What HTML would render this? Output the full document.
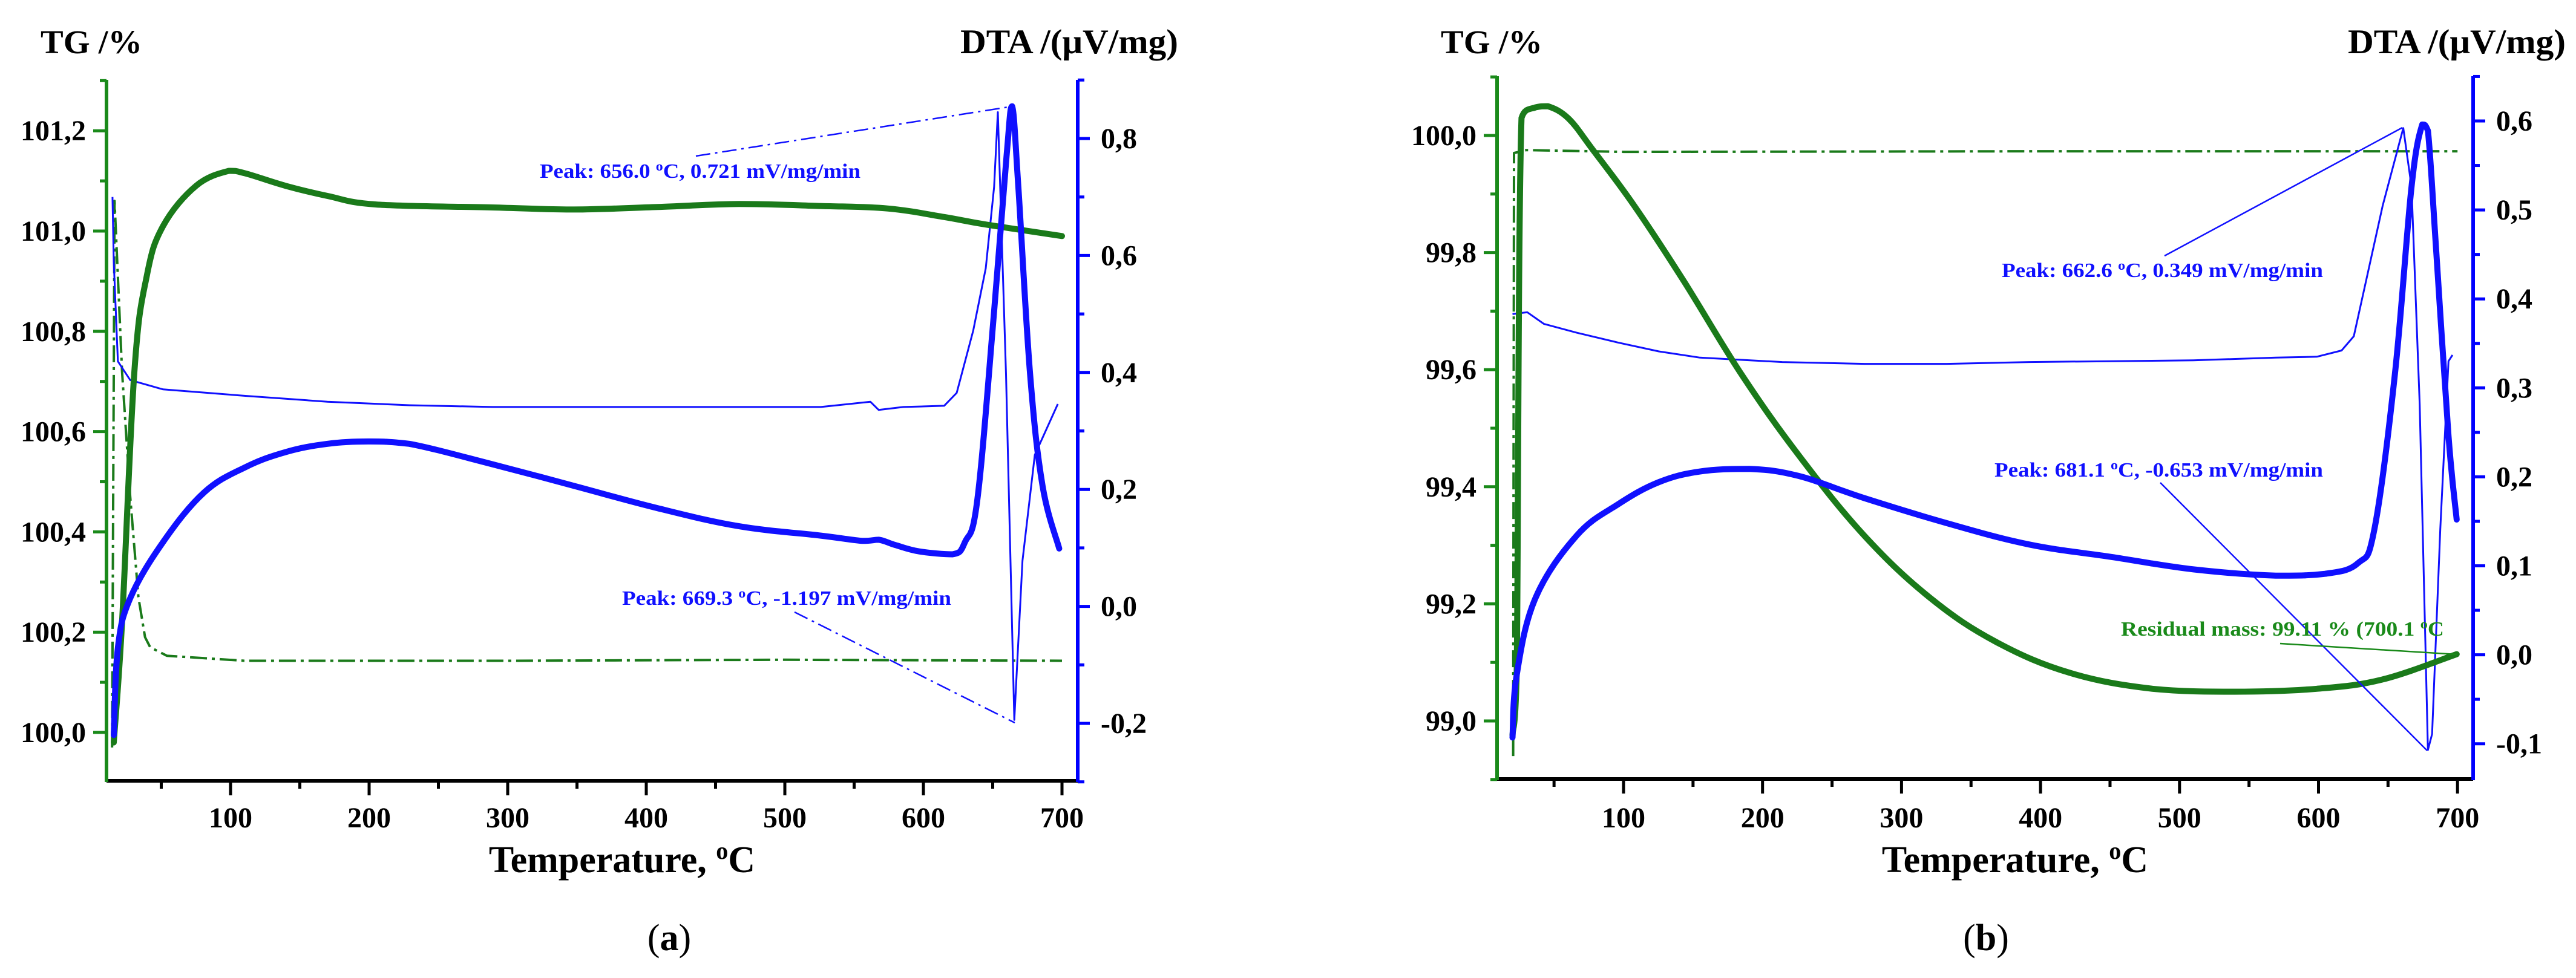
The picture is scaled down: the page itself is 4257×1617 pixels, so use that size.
<!DOCTYPE html>
<html><head><meta charset="utf-8"><style>
html,body{margin:0;padding:0;background:#fff;}
svg{display:block;font-family:"Liberation Serif",serif;font-weight:bold;}
</style></head><body>
<svg id="fig" width="4257" height="1617" viewBox="0 0 4257 1617" xmlns="http://www.w3.org/2000/svg">
<rect width="4257" height="1617" fill="#fff"/>
</svg>
<script>
// ---- Panel (a) data ----
const aTgT = [15.7,21.7,30.6,39.5,51.3,75,98.8,110.7,140,170,205,289,348,408,467,526,574,615,645,700];
const aTgV = [99.98,100.22,100.72,100.91,101.01,101.09,101.12,101.115,101.09,101.07,101.053,101.047,101.043,101.048,101.054,101.05,101.045,101.028,101.013,100.99];
const aDtgT = [14.5,16.3,21.7,27.6,33.5,38.3,42,54,110,300,500,700];
const aDtgV = [99.97,101.06,100.72,100.47,100.27,100.19,100.17,100.153,100.143,100.143,100.145,100.143];
const aDtaT = [15.7,18.7,27.6,51.3,81,110.7,140,170,199.7,229,289,348,408,467,526,556,567.7,579.6,597,621,630,639,651,660,664,668.5,677,686,698];
const aDtaV = [-0.22,-0.071,0.014,0.110,0.195,0.238,0.264,0.278,0.282,0.278,0.243,0.206,0.168,0.137,0.121,0.112,0.114,0.105,0.094,0.089,0.11,0.184,0.504,0.77,0.855,0.717,0.397,0.206,0.099];
const aDdtaT = [14.8,15.7,18.7,27.6,51.3,110.7,170,229,289,407,526,561.7,567.7,585.5,615,624,636,645,651,653.7,659.6,665.6,671.5,680.4,697];
const aDdtaV = [0.7,0.589,0.419,0.387,0.371,0.36,0.35,0.344,0.341,0.341,0.341,0.35,0.336,0.341,0.343,0.365,0.472,0.578,0.717,0.845,0.397,-0.194,0.078,0.259,0.346];
const aTgTicks = [100.0,100.2,100.4,100.6,100.8,101.0,101.2];
const aTgLabels = ["100,0","100,2","100,4","100,6","100,8","101,0","101,2"];
const aDtaTicks = [-0.2,0.0,0.2,0.4,0.6,0.8];
const aDtaLabels = ["-0,2","0,0","0,2","0,4","0,6","0,8"];
// ---- Panel (b) data ----
const bTgT = [20.1,23.1,26.6,36.7,45.6,60.4,78.1,107.7,143.2,184.6,226,273.4,320.7,368,421.3,480.5,539.6,598.8,646.2,699.4];
const bTgV = [98.976,99.08,100.03,100.048,100.05,100.029,99.975,99.88,99.752,99.593,99.454,99.316,99.21,99.135,99.082,99.055,99.05,99.055,99.071,99.114];
const bDtgT = [20.6,21.2,30,100,400,700];
const bDtgV = [98.94,99.97,99.975,99.972,99.973,99.973];
const bDtaT = [20.1,23.1,36.7,66.3,95.9,125.4,155,190.5,226,273.4,332.5,391.7,450.9,510,569.2,604.7,628.4,640.2,655,666.9,674.6,678.7,684.6,693.5,699.4];
const bDtaV = [-0.093,-0.023,0.064,0.134,0.169,0.194,0.206,0.209,0.201,0.176,0.148,0.124,0.11,0.096,0.089,0.091,0.103,0.141,0.316,0.526,0.596,0.589,0.456,0.246,0.152];
const bDdtaT = [20.1,30.8,42.6,66.3,95.9,125.4,155,214.2,273.4,332.5,391.7,450.9,510,569.2,598.8,616.6,625.4,634.3,646.2,661,666.9,672.8,678.7,681.7,687.6,693.5,696.4];
const bDdtaV = [0.383,0.385,0.372,0.362,0.351,0.341,0.334,0.329,0.327,0.327,0.329,0.33,0.331,0.334,0.335,0.342,0.358,0.421,0.505,0.592,0.526,0.281,-0.107,-0.089,0.141,0.33,0.337];
const bTgTicks = [99.0,99.2,99.4,99.6,99.8,100.0];
const bTgLabels = ["99,0","99,2","99,4","99,6","99,8","100,0"];
const bDtaTicks = [-0.1,0.0,0.1,0.2,0.3,0.4,0.5,0.6];
const bDtaLabels = ["-0,1","0,0","0,1","0,2","0,3","0,4","0,5","0,6"];
const xTicks = [100,200,300,400,500,600,700];
const xLabels = ["100","200","300","400","500","600","700"];

const NS = "http://www.w3.org/2000/svg";
const svg = document.getElementById('fig');
function mk(tag, attrs, parent, text){
  const e = document.createElementNS(NS, tag);
  for (const k in attrs) e.setAttribute(k, attrs[k]);
  if (text !== undefined) e.textContent = text;
  (parent || svg).appendChild(e);
  return e;
}
function pathD(ts, vs, sx, sy){
  return ts.map((t,i)=>(i?'L':'M')+sx(t).toFixed(1)+' '+sy(vs[i]).toFixed(1)).join(' ');
}
function clamp(v,a,b){const lo=Math.min(a,b),hi=Math.max(a,b);return Math.max(lo,Math.min(hi,v));}
function smoothD(ts, vs, sx, sy){
  const p = ts.map((t,i)=>[sx(t), sy(vs[i])]);
  let d = 'M'+p[0][0].toFixed(1)+' '+p[0][1].toFixed(1);
  const k = 0.18;
  for (let i=0;i<p.length-1;i++){
    const p0 = p[Math.max(0,i-1)], p1 = p[i], p2 = p[i+1], p3 = p[Math.min(p.length-1,i+2)];
    const c1x = clamp(p1[0]+(p2[0]-p0[0])*k, p1[0], p2[0]), c1y = clamp(p1[1]+(p2[1]-p0[1])*k, p1[1], p2[1]);
    const c2x = clamp(p2[0]-(p3[0]-p1[0])*k, p1[0], p2[0]), c2y = clamp(p2[1]-(p3[1]-p1[1])*k, p1[1], p2[1]);
    d += ' C'+c1x.toFixed(1)+' '+c1y.toFixed(1)+' '+c2x.toFixed(1)+' '+c2y.toFixed(1)+' '+p2[0].toFixed(1)+' '+p2[1].toFixed(1);
  }
  return d;
}

function panel(P){
  const g = mk('g', {});
  
  
  const sx = t => P.x0 + (t-100)*P.xk;
  const sl = v => P.l0y - (v-P.l0)*P.lk;
  const sr = v => P.r0y - (v-P.r0)*P.rk;
  let p;
  p = mk('path', {d: pathD(P.dtgT,P.dtgV,sx,sl), fill:'none', stroke:'#1a7a1a', 'stroke-width':4, 'stroke-dasharray':'28 8 5 8', 'stroke-linejoin':'round'}, g);
  
  
  p = mk('path', {d: pathD(P.ddtaT,P.ddtaV,sx,sr), fill:'none', stroke:'#1010ff', 'stroke-width':3, 'stroke-linejoin':'round'}, g);
  
  
  p = mk('path', {d: smoothD(P.tgT,P.tgV,sx,sl), fill:'none', stroke:'#1a7a1a', 'stroke-width':10, 'stroke-linejoin':'round','stroke-linecap':'round'}, g);
  
  
  p = mk('path', {d: smoothD(P.dtaT,P.dtaV,sx,sr), fill:'none', stroke:'#1010ff', 'stroke-width':10, 'stroke-linejoin':'round','stroke-linecap':'round'}, g);
  
  
  const ax = mk('g', {}, g);
  
  
  mk('line', {x1:P.L, y1:P.B, x2:P.R, y2:P.B, stroke:'#000', 'stroke-width':6}, ax);
  mk('line', {x1:P.L, y1:P.T, x2:P.L, y2:P.B+2, stroke:'#1a8a1a', 'stroke-width':6}, ax);
  mk('line', {x1:P.R, y1:P.T, x2:P.R, y2:P.B+2, stroke:'#0000ff', 'stroke-width':6}, ax);
  for (let t=50; t<=700; t+=50){
    const major = t%100===0;
    mk('line', {x1:sx(t), y1:P.B, x2:sx(t), y2:P.B+(major?24:13), stroke:'#000', 'stroke-width':5}, ax);
  }
  xTicks.forEach((t,i)=>{
    const e = mk('text', {x:sx(t), y:1368, 'text-anchor':'middle', 'font-size':48, fill:'#000'}, ax, xLabels[i]);
    
    
  });
  for (let v=P.lMin; v<=P.lMax+1e-9; v+=0.1){
    const y = sl(v); if (y < P.T-2 || y > P.B+2) continue;
    const major = Math.abs(Math.round(v*10)%2)===0;
    mk('line', {x1:P.L-(major?22:11), y1:y, x2:P.L, y2:y, stroke:'#1a8a1a', 'stroke-width':5}, ax);
  }
  P.lTicks.forEach((v,i)=>{
    const e = mk('text', {x:P.L-34, y:sl(v)+16, 'text-anchor':'end', 'font-size':48, fill:'#000'}, ax, P.lLabels[i]);
    
    
  });
  for (let v=P.rMin; v<=P.rMax+1e-9; v+=P.rMinor){
    const y = sr(v); if (y < P.T-2 || y > P.B+2) continue;
    const major = P.rTicks.some(tv=>Math.abs(tv-v)<1e-6);
    mk('line', {x1:P.R, y1:y, x2:P.R+(major?20:11), y2:y, stroke:'#0000ff', 'stroke-width':5}, ax);
  }
  P.rTicks.forEach((v,i)=>{
    const e = mk('text', {x:P.R+38, y:sr(v)+16, 'text-anchor':'start', 'font-size':48, fill:'#000'}, ax, P.rLabels[i]);
    
    
  });
  let e = mk('text', {x:P.tgX, y:88, 'font-size':55, fill:'#000', textLength:168, lengthAdjust:'spacingAndGlyphs'}, g, 'TG /%');
  
  
  e = mk('text', {x:P.dtaX, y:88, 'font-size':57, fill:'#000', textLength:360, lengthAdjust:'spacingAndGlyphs'}, g, 'DTA /(μV/mg)');
  
  
  e = mk('text', {x:P.xtX, y:1442, 'text-anchor':'middle', 'font-size':62, fill:'#000'}, g);
  e.innerHTML = 'Temperature, <tspan dy="-22" font-size="40">o</tspan><tspan dy="22">C</tspan>';
  
  
  e = mk('text', {x:P.capX, y:1571, 'text-anchor':'middle', 'font-size':62, 'font-weight':'normal', fill:'#000'}, g);
  e.innerHTML = '(<tspan font-weight="bold">'+P.cap+'</tspan>)';
  
  
  P.ann.forEach(a=>{
    const ln = mk('line', {x1:a.lx1, y1:a.ly1, x2:a.lx2, y2:a.ly2, stroke:a.c, 'stroke-width':2.5, 'stroke-dasharray':a.dash||'none'}, g);
    
    
    const t = mk('text', {x:a.x, y:a.y, 'font-size':34, fill:a.c, textLength:a.w, lengthAdjust:'spacingAndGlyphs'}, g);
    t.innerHTML = a.html;
    
    
  });
}

panel({id:'panel-a', cap:'a', L:176, R:1781, T:132, B:1291, x0:381, xk:2.29,
  l0:100, l0y:1211, lk:829, r0:0.8, r0y:229, rk:967,
  lMin:99.9, lMax:101.3, rMin:-0.3, rMax:0.9, rMinor:0.1,
  lTicks:aTgTicks, lLabels:aTgLabels, rTicks:aDtaTicks, rLabels:aDtaLabels,
  tgT:aTgT, tgV:aTgV, dtgT:aDtgT, dtgV:aDtgV, dtaT:aDtaT, dtaV:aDtaV, ddtaT:aDdtaT, ddtaV:aDdtaV,
  tgX:67, dtaX:1587, xtX:1028, capX:1106,
  ann:[
    {x:892,y:294,w:530,c:'#1010ff',html:'Peak: 656.0 <tspan dy="-12" font-size="22">o</tspan><tspan dy="12">C, 0.721 mV/mg/min</tspan>',lx1:1150,ly1:258,lx2:1666,ly2:177,dash:'24 8 4 8'},
    {x:1028,y:1000,w:544,c:'#1010ff',html:'Peak: 669.3 <tspan dy="-12" font-size="22">o</tspan><tspan dy="12">C, -1.197 mV/mg/min</tspan>',lx1:1313,ly1:1012,lx2:1677,ly2:1195,dash:'24 8 4 8'}
  ]});

panel({id:'panel-b', cap:'b', L:2474, R:4087, T:126, B:1288, x0:2683, xk:2.297,
  l0:100, l0y:224, lk:968, r0:0.6, r0y:200, rk:1471,
  lMin:98.9, lMax:100.1, rMin:-0.15, rMax:0.65, rMinor:0.05,
  lTicks:bTgTicks, lLabels:bTgLabels, rTicks:bDtaTicks, rLabels:bDtaLabels,
  tgT:bTgT, tgV:bTgV, dtgT:bDtgT, dtgV:bDtgV, dtaT:bDtaT, dtaV:bDtaV, ddtaT:bDdtaT, ddtaV:bDdtaV,
  tgX:2381, dtaX:3880, xtX:3330, capX:3282,
  ann:[
    {x:3308,y:458,w:531,c:'#1010ff',html:'Peak: 662.6 <tspan dy="-12" font-size="22">o</tspan><tspan dy="12">C, 0.349 mV/mg/min</tspan>',lx1:3577,ly1:423,lx2:3970,ly2:211},
    {x:3296,y:788,w:543,c:'#1010ff',html:'Peak: 681.1 <tspan dy="-12" font-size="22">o</tspan><tspan dy="12">C, -0.653 mV/mg/min</tspan>',lx1:3570,ly1:798,lx2:4011,ly2:1241},
    {x:3505,y:1051,w:534,c:'#1a8a1a',html:'Residual mass: 99.11 % (700.1 <tspan dy="-12" font-size="22">o</tspan><tspan dy="12">C</tspan>',lx1:3768,ly1:1064,lx2:4060,ly2:1082}
  ]});
</script>
</body></html>
